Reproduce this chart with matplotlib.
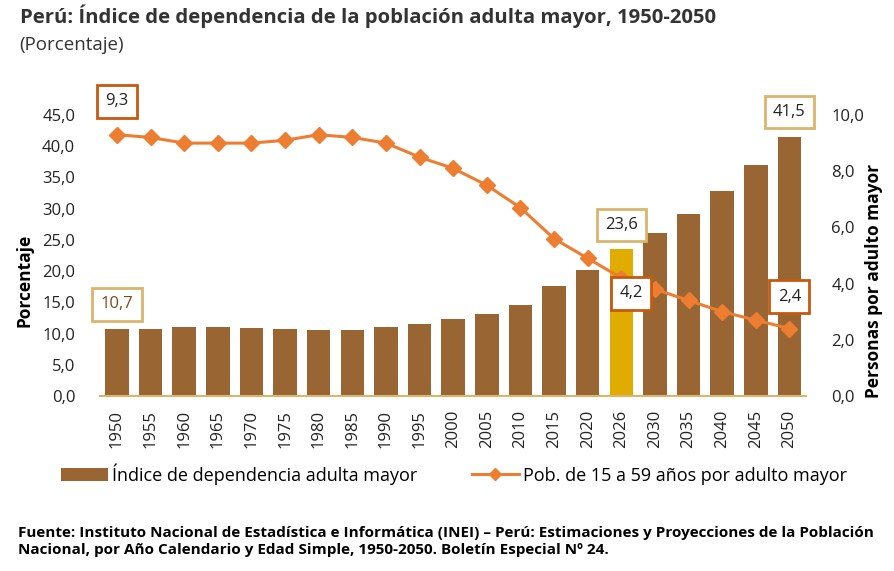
import matplotlib.pyplot as plt
import numpy as np

plt.rcParams['font.family'] = ['Open Sans', 'DejaVu Sans']

years = ['1950', '1955', '1960', '1965', '1970', '1975', '1980', '1985', '1990', '1995',
         '2000', '2005', '2010', '2015', '2020', '2026', '2030', '2035', '2040', '2045', '2050']
indice = [10.7, 10.7, 11.0, 11.0, 10.9, 10.8, 10.6, 10.6, 11.0, 11.6,
          12.3, 13.1, 14.5, 17.6, 20.1, 23.6, 26.1, 29.1, 32.9, 37.0, 41.5]
pob = [9.3, 9.2, 9.0, 9.0, 9.0, 9.1, 9.3, 9.2, 9.0, 8.5,
       8.1, 7.5, 6.7, 5.6, 4.9, 4.2, 3.8, 3.4, 3.0, 2.7, 2.4]

brown = '#996633'
gold = '#E0AC00'
orange = '#ED7D31'
dark_orange = '#C55A11'
tan = '#D9B56E'
txt = '#222222'

fig = plt.figure(figsize=(8.94, 5.71), dpi=100)
ax = fig.add_axes([0.112, 0.3065, 0.7898, 0.4921])
ax2 = ax.twinx()

x = np.arange(len(years))
colors = [gold if y == '2026' else brown for y in years]
bars = ax.bar(x, indice, width=0.7, color=colors, zorder=2,
              label='Índice de dependencia adulta mayor')
line, = ax2.plot(x, pob, color=orange, lw=2.2, marker='D', ms=8,
                 label='Pob. de 15 a 59 años por adulto mayor', zorder=3)

ax.set_xlim(-0.5, len(years) - 0.5)
ax.set_ylim(0, 45)
ax2.set_ylim(0, 10)
ax.set_yticks(np.arange(0, 46, 5))
ax.set_yticklabels([f'{v:.1f}'.replace('.', ',') for v in np.arange(0, 46, 5)])
ax2.set_yticks(np.arange(0, 11, 2))
ax2.set_yticklabels([f'{v:.1f}'.replace('.', ',') for v in np.arange(0, 11, 2)])
ax.set_xticks(x)
ax.set_xticklabels(years, rotation=90)

for a in (ax, ax2):
    for s in ('top', 'left', 'right', 'bottom'):
        a.spines[s].set_visible(False)
    a.tick_params(length=0, labelsize=12, colors=txt)
ax.spines['bottom'].set_visible(True)
ax.spines['bottom'].set_color(tan)
ax.spines['bottom'].set_linewidth(1.5)
ax.tick_params(axis='y', pad=18)
ax.tick_params(axis='x', pad=10)
ax2.tick_params(axis='y', pad=18)

ax.set_ylabel('Porcentaje', fontsize=12.5, fontweight='bold', color='black')
ax.yaxis.set_label_coords(-0.095, 0.41)
ax2.set_ylabel('Personas por adulto mayor', fontsize=12.5, fontweight='bold', color='black')
ax2.yaxis.set_label_coords(1.083, 0.41)


def box(a, xi, yv, text, dy, edge, color=txt, dx=0):
    a.annotate(text, (xi, yv), xytext=(dx, dy), textcoords='offset points',
               ha='center', va='center', fontsize=12, color=color, zorder=5,
               bbox=dict(boxstyle='square,pad=0.5', fc='white', ec=edge, lw=2))


box(ax2, 0, pob[0], '9,3', 24, dark_orange)
box(ax2, 15, pob[15], '4,2', -11, dark_orange, dx=7)
box(ax2, 20, pob[20], '2,4', 23, dark_orange)
box(ax, 0, indice[0], '10,7', 18, tan, color='#7A4A1E')
box(ax, 15, indice[15], '23,6', 17, tan)
box(ax, 20, indice[20], '41,5', 18, tan)

fig.legend(handles=[bars, line], loc='center', bbox_to_anchor=(0.508, 0.17), ncol=2,
           frameon=False, fontsize=13, handlelength=2.6, columnspacing=3.0,
           handletextpad=0.25, markerscale=0.75)

fig.text(0.022, 0.972, 'Perú: Índice de dependencia de la población adulta mayor, 1950-2050',
         fontsize=14.6, fontweight='bold', color='#333333', va='center')
fig.text(0.022, 0.922, '(Porcentaje)', fontsize=13.5, color='#333333', va='center')
fig.text(0.02, 0.052, 'Fuente: Instituto Nacional de Estadística e Informática (INEI) – Perú: '
         'Estimaciones y Proyecciones de la Población\nNacional, por Año Calendario y Edad '
         'Simple, 1950-2050. Boletín Especial Nº 24.',
         fontsize=11, fontweight='bold', color='black', va='center', linespacing=1.25)

fig.savefig('out.png', dpi=100)
